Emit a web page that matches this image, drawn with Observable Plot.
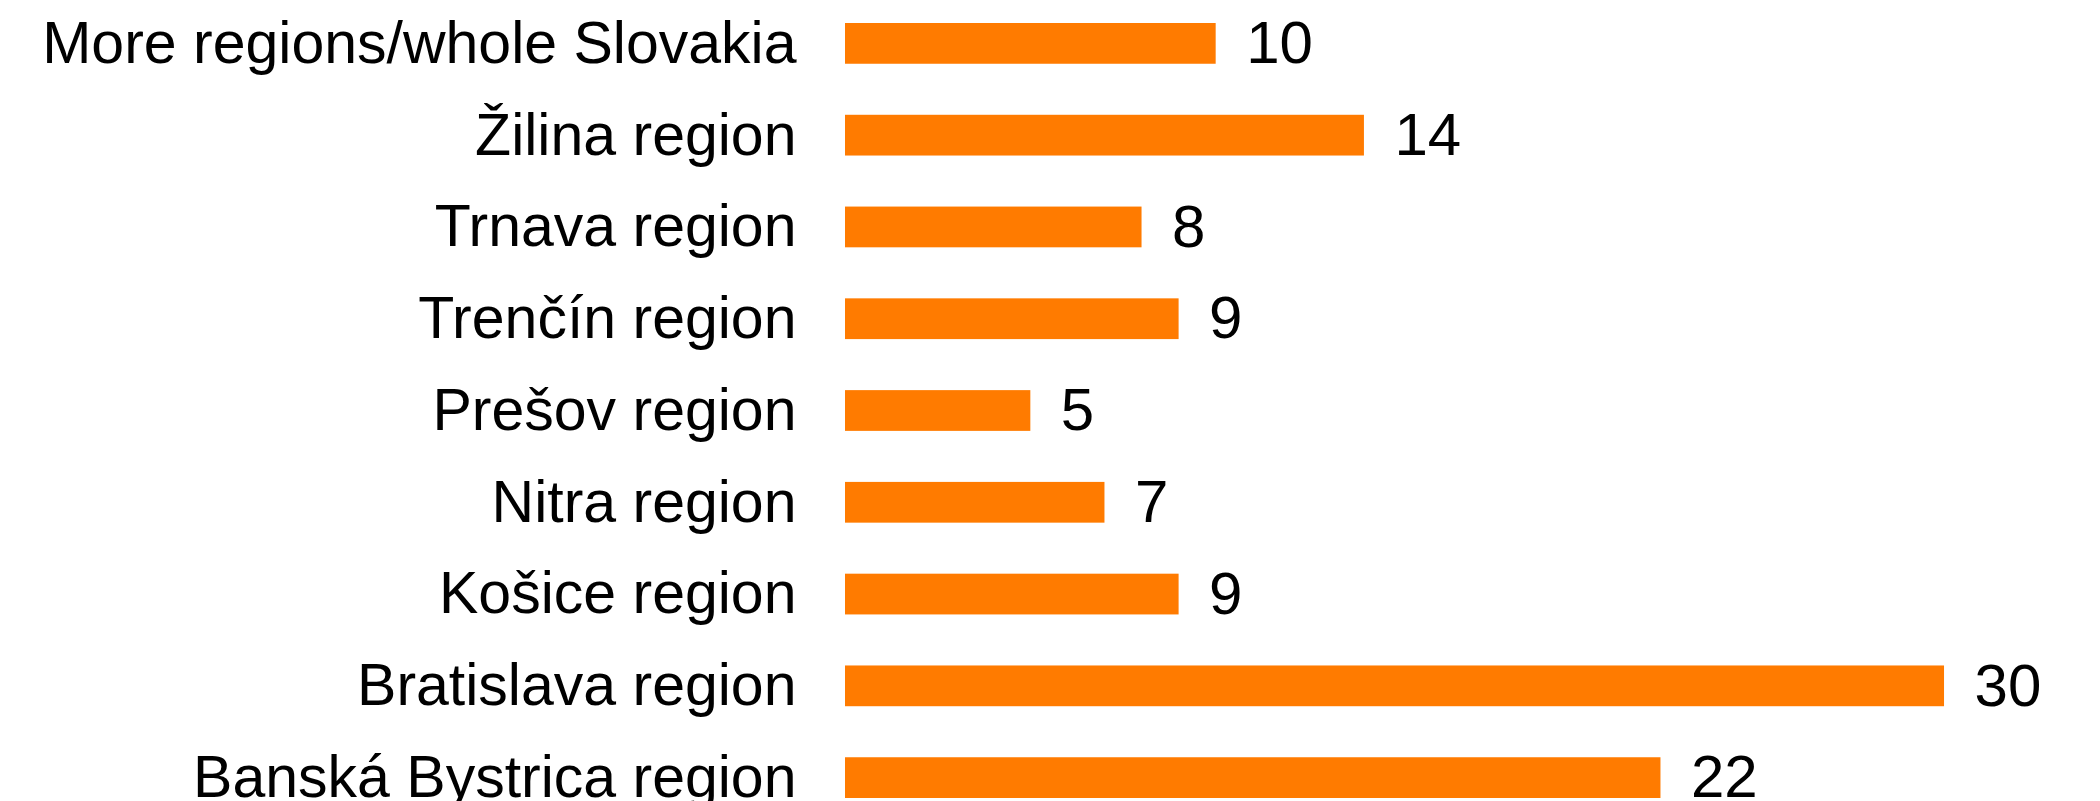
<!DOCTYPE html>
<html>
<head>
<meta charset="utf-8">
<script src="https://cdn.jsdelivr.net/npm/d3@7"></script>
<script src="https://cdn.jsdelivr.net/npm/@observablehq/plot@0.6"></script>
<style>
  html, body { margin: 0; padding: 0; background: #ffffff; }
  #chart { width: 2100px; height: 801px; }
</style>
</head>
<body>
<div id="chart"></div>
<script>
const categories = [
  "More regions/whole Slovakia",
  "Žilina region",
  "Trnava region",
  "Trenčín region",
  "Prešov region",
  "Nitra region",
  "Košice region",
  "Bratislava region",
  "Banská Bystrica region"
];
const values = [10, 14, 8, 9, 5, 7, 9, 29.65, 22];
const valueLabels = ["10", "14", "8", "9", "5", "7", "9", "30", "22"];

const data = categories.map((c, i) => ({category: c, value: values[i], label: valueLabels[i]}));

const chart = Plot.plot({
  width: 2100,
  height: 801,
  marginLeft: 845,
  marginRight: 143,
  marginTop: 23,
  marginBottom: 3,
  style: {fontFamily: "'Liberation Sans', Arial, Helvetica, sans-serif", color: "#000000", background: "#ffffff"},
  x: {domain: [0, 30], axis: null},
  y: {domain: categories, paddingInner: 0.556, paddingOuter: 0, round: false, axis: null},
  marks: [
    Plot.barX(data, {x: "value", y: "category", fill: "#ff7b00"}),
    Plot.text(data, {x: "value", y: "category", text: "label", textAnchor: "start", dx: 30, fontSize: 60, fill: "#000000"}),
    Plot.axisY({tickSize: 0, tickPadding: 49, fontSize: 59, label: null, fill: "#000000"})
  ]
});
document.getElementById("chart").appendChild(chart);
</script>
</body>
</html>
